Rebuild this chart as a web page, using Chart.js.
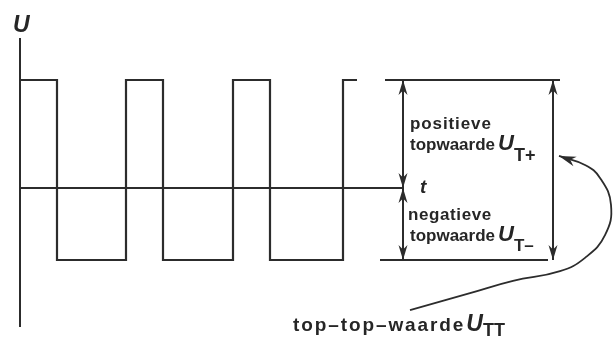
<!DOCTYPE html>
<html>
<head>
<meta charset="utf-8">
<script src="https://cdn.jsdelivr.net/npm/chart.js@4/dist/chart.umd.min.js"></script>
<style>
  html, body { margin: 0; padding: 0; background: #fff; }
  #wrap { width: 615px; height: 338px; }
</style>
</head>
<body>
<div id="wrap"><canvas id="c" width="615" height="338"></canvas></div>
<script>
// ---- data ----
// square wave: time of each transition and the level reached after it
const transitionTimes = [0, 37, 106, 143, 213, 250, 323, 337];
const waveLevels      = [3, -2, 3, -2, 3, -2, 3, 3];
const U_POS = 3;   // positive peak value U_T+
const U_NEG = -2;  // negative peak value U_T-
// axes extents
const axisTimeEnd = 383;
const axisUTop = 4.17, axisUBottom = -3.86;
// annotation geometry (time positions of reference lines / arrows)
const refTopLine = [365, 540];
const refBottomLine = [360, 528];
const arrowLeftX = 383;
const arrowRightX = 533;
// curved pointer from the bottom label to U_T+
const curveT = [390, 450, 493, 540, 565, 585, 591, 580, 565, 539];
const curveU = [-3.39, -2.92, -2.58, -2.31, -1.94, -1.31, -0.47, 0.28, 0.64, 0.89];

const INK = '#2c2c2c';

const wavePoints = transitionTimes.map((t, i) => ({ x: t, y: waveLevels[i] }));
const curvePoints = curveT.map((t, i) => ({ x: t, y: curveU[i] }));

function seg(x0, y0, x1, y1) { return [{ x: x0, y: y0 }, { x: x1, y: y1 }]; }

const lineDs = (data, extra) => Object.assign({
  data, showLine: true, borderColor: INK, borderWidth: 2, pointRadius: 0,
  fill: false, tension: 0
}, extra || {});

const datasets = [
  lineDs(wavePoints, { stepped: 'before', borderWidth: 2.2 }),
  lineDs(seg(0, axisUBottom, 0, axisUTop)),
  lineDs(seg(0, 0, axisTimeEnd, 0)),
  lineDs(seg(refTopLine[0], U_POS, refTopLine[1], U_POS)),
  lineDs(seg(refBottomLine[0], U_NEG, refBottomLine[1], U_NEG)),
  lineDs(seg(arrowLeftX, U_POS, arrowLeftX, 0), { arrows: true }),
  lineDs(seg(arrowLeftX, 0, arrowLeftX, U_NEG), { arrows: true }),
  lineDs(seg(arrowRightX, U_POS, arrowRightX, U_NEG), { arrows: true }),
  lineDs(curvePoints, { tension: 0.45, arrowEnd: true, borderWidth: 1.8 })
];

// text labels: anchor in data units, list of runs
const F = '"Liberation Sans", Arial, sans-serif';
const labels = [
  { x: -7, y: 4.33, runs: [{ t: 'U', font: 'italic bold 23px ' + F }] },
  { x: 400, y: 0, base: 'middle', runs: [{ t: 't', font: 'italic bold 19px ' + F }] },
  { x: 390, y: 1.64, runs: [{ t: 'positieve', font: 'bold 17px ' + F, ls: 0.9 }] },
  { x: 390, y: 1.06, runs: [
      { t: 'topwaarde', font: 'bold 17px ' + F },
      { t: 'U', font: 'italic bold 22px ' + F, gap: 3 },
      { t: 'T+', font: 'bold 18px ' + F, dy: 11 }] },
  { x: 388, y: -0.89, runs: [{ t: 'negatieve', font: 'bold 17px ' + F, ls: 0.6 }] },
  { x: 390, y: -1.47, runs: [
      { t: 'topwaarde', font: 'bold 17px ' + F },
      { t: 'U', font: 'italic bold 22px ' + F, gap: 3 },
      { t: 'T–', font: 'bold 17px ' + F, dy: 10 }] },
  { x: 273, y: -3.97, runs: [
      { t: 'top–top–waarde', font: 'bold 19px ' + F, ls: 1.9 },
      { t: 'U', font: 'italic bold 23px ' + F, gap: 1 },
      { t: 'TT', font: 'bold 18px ' + F, dy: 5 }] }
];

function arrowHead(ctx, tipX, tipY, fromX, fromY, len, half) {
  const a = Math.atan2(tipY - fromY, tipX - fromX);
  ctx.save();
  ctx.translate(tipX, tipY);
  ctx.rotate(a);
  ctx.beginPath();
  ctx.moveTo(0, 0);
  ctx.lineTo(-len, -half);
  ctx.lineTo(-len * 0.7, 0);
  ctx.lineTo(-len, half);
  ctx.closePath();
  ctx.fillStyle = INK;
  ctx.fill();
  ctx.restore();
}

const annot = {
  id: 'annot',
  afterDatasetsDraw(chart) {
    const ctx = chart.ctx, xs = chart.scales.x, ys = chart.scales.y;
    chart.data.datasets.forEach(ds => {
      const d = ds.data;
      if (ds.arrows) {
        const p0 = { x: xs.getPixelForValue(d[0].x), y: ys.getPixelForValue(d[0].y) };
        const p1 = { x: xs.getPixelForValue(d[1].x), y: ys.getPixelForValue(d[1].y) };
        arrowHead(ctx, p0.x, p0.y, p1.x, p1.y, 15, 4.5);
        arrowHead(ctx, p1.x, p1.y, p0.x, p0.y, 15, 4.5);
      }
      if (ds.arrowEnd) {
        const n = d.length;
        const a = { x: xs.getPixelForValue(d[n - 2].x), y: ys.getPixelForValue(d[n - 2].y) };
        const b = { x: xs.getPixelForValue(d[n - 1].x), y: ys.getPixelForValue(d[n - 1].y) };
        arrowHead(ctx, b.x, b.y, a.x, a.y, 17, 5);
      }
    });
    ctx.save();
    ctx.fillStyle = '#262626';
    labels.forEach(L => {
      let px = xs.getPixelForValue(L.x);
      const py = ys.getPixelForValue(L.y);
      ctx.textBaseline = L.base || 'alphabetic';
      ctx.textAlign = 'left';
      L.runs.forEach(r => {
        ctx.font = r.font;
        ctx.letterSpacing = (r.ls || 0) + 'px';
        px += r.gap || 0;
        ctx.fillText(r.t, px, py + (r.dy || 0));
        px += ctx.measureText(r.t).width;
      });
      ctx.letterSpacing = '0px';
    });
    ctx.restore();
  }
};

new Chart(document.getElementById('c'), {
  type: 'scatter',
  data: { datasets },
  options: {
    responsive: false,
    devicePixelRatio: 1,
    animation: false,
    layout: { padding: 0 },
    plugins: { legend: { display: false }, tooltip: { enabled: false } },
    elements: { line: { capBezierPoints: false } },
    scales: {
      x: { type: 'linear', min: -20, max: 595, display: false },
      y: { type: 'linear', min: -4.1667, max: 5.2222, display: false }
    }
  },
  plugins: [annot]
});
</script>
</body>
</html>
